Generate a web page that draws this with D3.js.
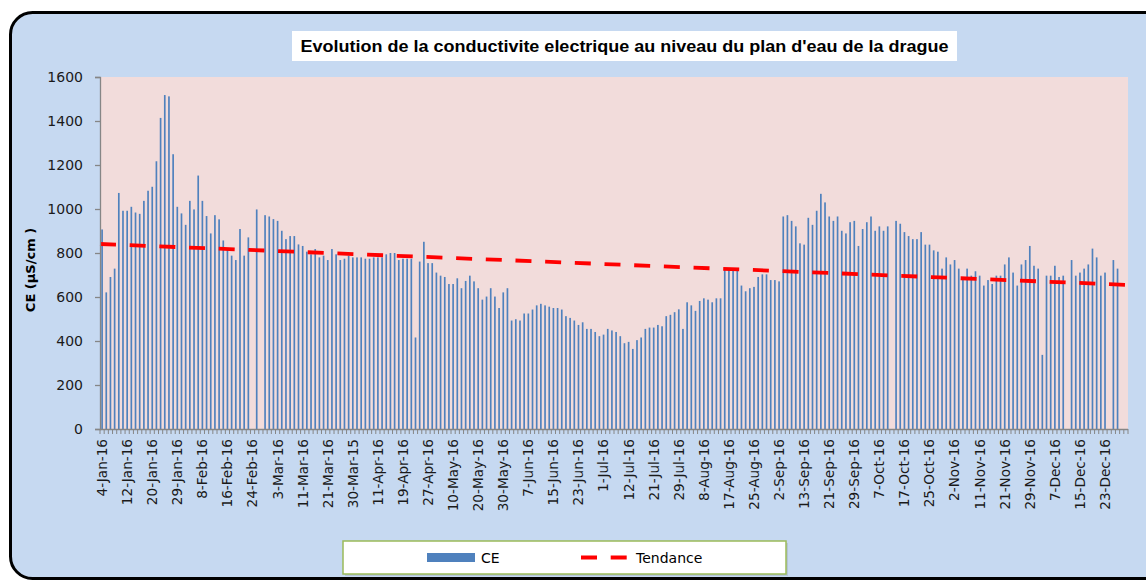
<!DOCTYPE html>
<html>
<head>
<meta charset="utf-8">
<script src="https://cdn.jsdelivr.net/npm/d3@7"></script>
<style>
  html, body { margin: 0; padding: 0; background: #ffffff; }
  svg { display: block; }
</style>
</head>
<body>
<svg id="chart" width="1146" height="581"></svg>
<script>
// ---------------- DATA ----------------
const chartTitle = "Evolution de la conductivite electrique au niveau du plan d'eau de la drague";
const yAxisTitle = "CE (µS/cm )";
const seriesName = "CE";
const trendName = "Tendance";

// CE values (µS/cm), one per measurement day (null = no measurement)
const ceValues = [
  907, 621, 691, 729, 1073, 992, 992, 1010, 984, 978,
  1037, 1083, 1101, 1217, 1414, 1518, 1512, 1249, 1010, 980,
  928, 1037, 998, 1152, 1037, 968, 889, 972, 953, 857,
  813, 788, 768, 909, 788, 871, null, 998, null, 972,
  966, 954, 946, 901, 863, 877, 877, 839, 832, 806,
  794, 818, 780, 788, 768, 818, 794, 768, 774, 788,
  780, 780, 780, 774, 774, 780, 780, 780, 794, 800,
  800, 768, 774, 774, 774, 416, 761, 851, 754, 754,
  711, 697, 691, 659, 659, 685, 640, 673, 697, 671,
  640, 588, 602, 640, 602, 550, 621, 640, 493, 499,
  493, 525, 525, 543, 562, 569, 562, 556, 550, 550,
  543, 513, 505, 493, 473, 485, 455, 455, 441, 422,
  429, 455, 448, 441, 422, 390, 396, 364, 404, 416,
  455, 461, 461, 473, 467, 513, 519, 531, 544, 455,
  576, 562, 537, 582, 594, 588, 576, 594, 594, 723,
  723, 723, 723, 652, 626, 640, 646, 691, 703, 703,
  677, 677, 671, 966, 972, 946, 921, 844, 838, 960,
  928, 992, 1069, 1030, 966, 946, 966, 901, 889, 940,
  946, 832, 909, 940, 966, 901, 921, 901, 921, null,
  946, 933, 895, 877, 863, 863, 895, 838, 838, 812,
  806, 729, 780, 748, 768, 729, 691, 729, 697, 717,
  697, 652, 677, 659, 697, 697, 748, 780, 711, 652,
  748, 768, 832, 742, 729, 337, 697, 697, 742, 691,
  697, null, 768, 697, 711, 729, 748, 820, 780, 697,
  711, null, 768, 729, null, null
];
const categories = ceValues.map((d, i) => i);

// Date labels shown on the category axis (one every 6 categories)
const tickLabels = [
  "4-Jan-16", "12-Jan-16", "20-Jan-16", "29-Jan-16", "8-Feb-16", "16-Feb-16",
  "24-Feb-16", "3-Mar-16", "11-Mar-16", "21-Mar-16", "30-Mar-15", "11-Apr-16",
  "19-Apr-16", "27-Apr-16", "10-May-16", "20-May-16", "30-May-16", "7-Jun-16",
  "15-Jun-16", "23-Jun-16", "1-Jul-16", "12-Jul-16", "21-Jul-16", "29-Jul-16",
  "8-Aug-16", "17-Aug-16", "25-Aug-16", "2-Sep-16", "13-Sep-16", "21-Sep-16",
  "29-Sep-16", "7-Oct-16", "17-Oct-16", "25-Oct-16", "2-Nov-16", "11-Nov-16",
  "21-Nov-16", "29-Nov-16", "7-Dec-16", "15-Dec-16", "23-Dec-16"
];
const tickStep = 6;

// Linear trend line: value at the start and at the end of the period
const trendValues = [841, 655];

const yTicks = [0, 200, 400, 600, 800, 1000, 1200, 1400, 1600];

// ---------------- LAYOUT ----------------
const plot = { left: 100, right: 1128, top: 77, bottom: 429 };
const colors = {
  chartBg: "#c6d9f1",
  plotBg: "#f2dcdb",
  bar: "#4f81bd",
  trend: "#ff0000",
  axis: "#868686",
  text: "#1a1a1a",
  legendBorder: "#9bbb59"
};

const svg = d3.select("#chart");

// outer chart area
svg.append("rect")
  .attr("x", 10.5).attr("y", 12.5)
  .attr("width", 1160).attr("height", 566)
  .attr("rx", 22).attr("ry", 22)
  .attr("fill", colors.chartBg)
  .attr("stroke", "#000").attr("stroke-width", 3);

// title box
const titleG = svg.append("g");
titleG.append("rect")
  .attr("x", 292).attr("y", 31).attr("width", 665).attr("height", 30)
  .attr("fill", "#fff");
titleG.append("text")
  .attr("x", 624.5).attr("y", 52)
  .attr("text-anchor", "middle")
  .attr("font-family", "'Liberation Sans Narrow', 'Liberation Sans', Arial, sans-serif")
  .attr("font-weight", "bold")
  .attr("font-size", 17)
  .attr("textLength", 648)
  .attr("lengthAdjust", "spacingAndGlyphs")
  .attr("fill", "#000")
  .text(chartTitle);

// plot area
svg.append("rect")
  .attr("x", plot.left).attr("y", plot.top)
  .attr("width", plot.right - plot.left).attr("height", plot.bottom - plot.top)
  .attr("fill", colors.plotBg);

// scales
const x = d3.scaleBand()
  .domain(categories)
  .range([plot.left, plot.right])
  .paddingInner(0.6).paddingOuter(0.3);
const xCont = d3.scaleLinear()
  .domain([0, categories.length])
  .range([plot.left, plot.right]);
const y = d3.scaleLinear().domain([0, 1600]).range([plot.bottom, plot.top]);

// bars
svg.append("g")
  .selectAll("rect")
  .data(categories.filter(i => ceValues[i] != null))
  .join("rect")
  .attr("x", i => x(i))
  .attr("width", x.bandwidth())
  .attr("y", i => y(ceValues[i]))
  .attr("height", i => y(0) - y(ceValues[i]))
  .attr("fill", colors.bar);

// trend line
svg.append("line")
  .attr("x1", xCont(0)).attr("x2", xCont(categories.length))
  .attr("y1", y(trendValues[0])).attr("y2", y(trendValues[1]))
  .attr("stroke", colors.trend)
  .attr("stroke-width", 3.8)
  .attr("stroke-dasharray", "16,13.7");

// y axis
const yAxis = svg.append("g")
  .attr("transform", `translate(${plot.left},0)`)
  .call(d3.axisLeft(y).tickValues(yTicks).tickSize(5).tickPadding(12).tickFormat(d3.format("d")));
yAxis.select(".domain").attr("stroke", colors.axis).attr("stroke-width", 1.3);
yAxis.selectAll(".tick line").attr("stroke", colors.axis).attr("stroke-width", 1.3);
yAxis.selectAll(".tick text")
  .attr("font-family", "'DejaVu Sans', Verdana, sans-serif")
  .attr("font-size", 14)
  .attr("fill", colors.text);

// x axis (category ticks at each boundary)
const xAxisG = svg.append("g");
xAxisG.append("line")
  .attr("x1", plot.left).attr("x2", plot.right)
  .attr("y1", plot.bottom + 0.5).attr("y2", plot.bottom + 0.5)
  .attr("stroke", colors.axis).attr("stroke-width", 1.3);
xAxisG.selectAll("line.tick")
  .data(d3.range(categories.length + 1))
  .join("line")
  .attr("class", "tick")
  .attr("x1", i => xCont(i)).attr("x2", i => xCont(i))
  .attr("y1", plot.bottom).attr("y2", plot.bottom + 5)
  .attr("stroke", colors.axis).attr("stroke-width", 1);
xAxisG.selectAll("text")
  .data(tickLabels)
  .join("text")
  .attr("transform", (d, k) => `translate(${x(k * tickStep) + x.bandwidth() / 2},${plot.bottom + 10}) rotate(-90)`)
  .attr("text-anchor", "end")
  .attr("dy", "0.36em")
  .attr("font-family", "'DejaVu Sans', Verdana, sans-serif")
  .attr("font-size", 13.6)
  .attr("fill", colors.text)
  .text(d => d);

// y axis title
svg.append("text")
  .attr("transform", `translate(35,${(plot.top + plot.bottom) / 2 + 17}) rotate(-90)`)
  .attr("text-anchor", "middle")
  .attr("font-family", "'DejaVu Sans', Verdana, sans-serif")
  .attr("font-weight", "bold")
  .attr("font-size", 13)
  .attr("fill", "#000")
  .text(yAxisTitle);

// legend
const lg = svg.append("g");
lg.append("rect")
  .attr("x", 345).attr("y", 543).attr("width", 443).attr("height", 33)
  .attr("fill", "#a9b6c6").attr("opacity", 0.6);
lg.append("rect")
  .attr("x", 343).attr("y", 541).attr("width", 443).attr("height", 33)
  .attr("fill", "#fff").attr("stroke", colors.legendBorder).attr("stroke-width", 1.5);
lg.append("rect")
  .attr("x", 427).attr("y", 553).attr("width", 48).attr("height", 9)
  .attr("fill", colors.bar);
lg.append("text")
  .attr("x", 481).attr("y", 563)
  .attr("font-family", "'DejaVu Sans', Verdana, sans-serif")
  .attr("font-size", 14).attr("fill", "#000")
  .text(seriesName);
lg.append("line")
  .attr("x1", 581).attr("x2", 628).attr("y1", 557.5).attr("y2", 557.5)
  .attr("stroke", colors.trend).attr("stroke-width", 3.8)
  .attr("stroke-dasharray", "16,13.7");
lg.append("text")
  .attr("x", 636).attr("y", 563)
  .attr("font-family", "'DejaVu Sans', Verdana, sans-serif")
  .attr("font-size", 14).attr("fill", "#000")
  .text(trendName);
</script>
</body>
</html>
